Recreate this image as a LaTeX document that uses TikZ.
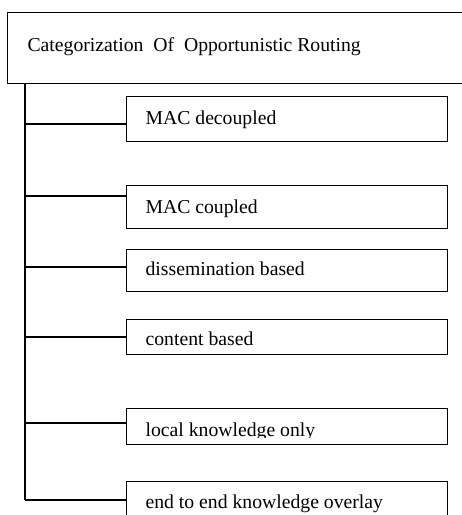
\documentclass[tikz,border=0pt]{standalone}
\usepackage{fontspec}
\setmainfont{Liberation Serif}
\begin{document}
\begin{tikzpicture}[x=1pt,y=-1pt,line width=1.2pt,
  box/.style={draw,rectangle,inner sep=0pt,anchor=north west},
  lbl/.style={anchor=base west,inner sep=0pt,font=\fontsize{19.7}{23}\selectfont}]
\useasboundingbox (0,0) rectangle (462,515);
\clip (0,0) rectangle (462,515);
\node[box,minimum width=470pt,minimum height=71pt] (title) at (7,12) {};
\node[lbl] (tt) at (27,51) {Categorization\ \ Of\ \ Opportunistic Routing};
\node[box,minimum width=321pt,minimum height=45pt] (b1) at (126,96) {};
\node[box,minimum width=321pt,minimum height=43pt] (b2) at (126,185) {};
\node[box,minimum width=321pt,minimum height=42pt] (b3) at (126,249) {};
\node[box,minimum width=321pt,minimum height=35pt] (b4) at (126,319) {};
\node[box,minimum width=321pt,minimum height=36pt] (b5) at (126,408) {};
\node[box,minimum width=321pt,minimum height=50pt] (b6) at (126,481) {};
\node[lbl] (t1) at (145,124) {MAC decoupled};
\node[lbl] (t2) at (145,213) {MAC coupled};
\node[lbl] (t3) at (145,275) {dissemination based};
\node[lbl] (t4) at (145,345) {content based};
\begin{scope}
\clip (126,408) rectangle (447,437);
\node[lbl] (t5) at (145,436) {local knowledge only};
\end{scope}
\node[lbl] (t6) at (145,508) {end to end knowledge overlay};
\coordinate (c1) at (25,124);
\coordinate (c2) at (25,196);
\coordinate (c3) at (25,267);
\coordinate (c4) at (25,337);
\coordinate (c5) at (25,423);
\coordinate (c6) at (25,500);
\draw (title.south -| c1) -- (c6);
\draw (c1) -- (c1 -| b1.west);
\draw (c2) -- (c2 -| b2.west);
\draw (c3) -- (c3 -| b3.west);
\draw (c4) -- (c4 -| b4.west);
\draw (c5) -- (c5 -| b5.west);
\draw (c6) -- (c6 -| b6.west);
\end{tikzpicture}
\end{document}
